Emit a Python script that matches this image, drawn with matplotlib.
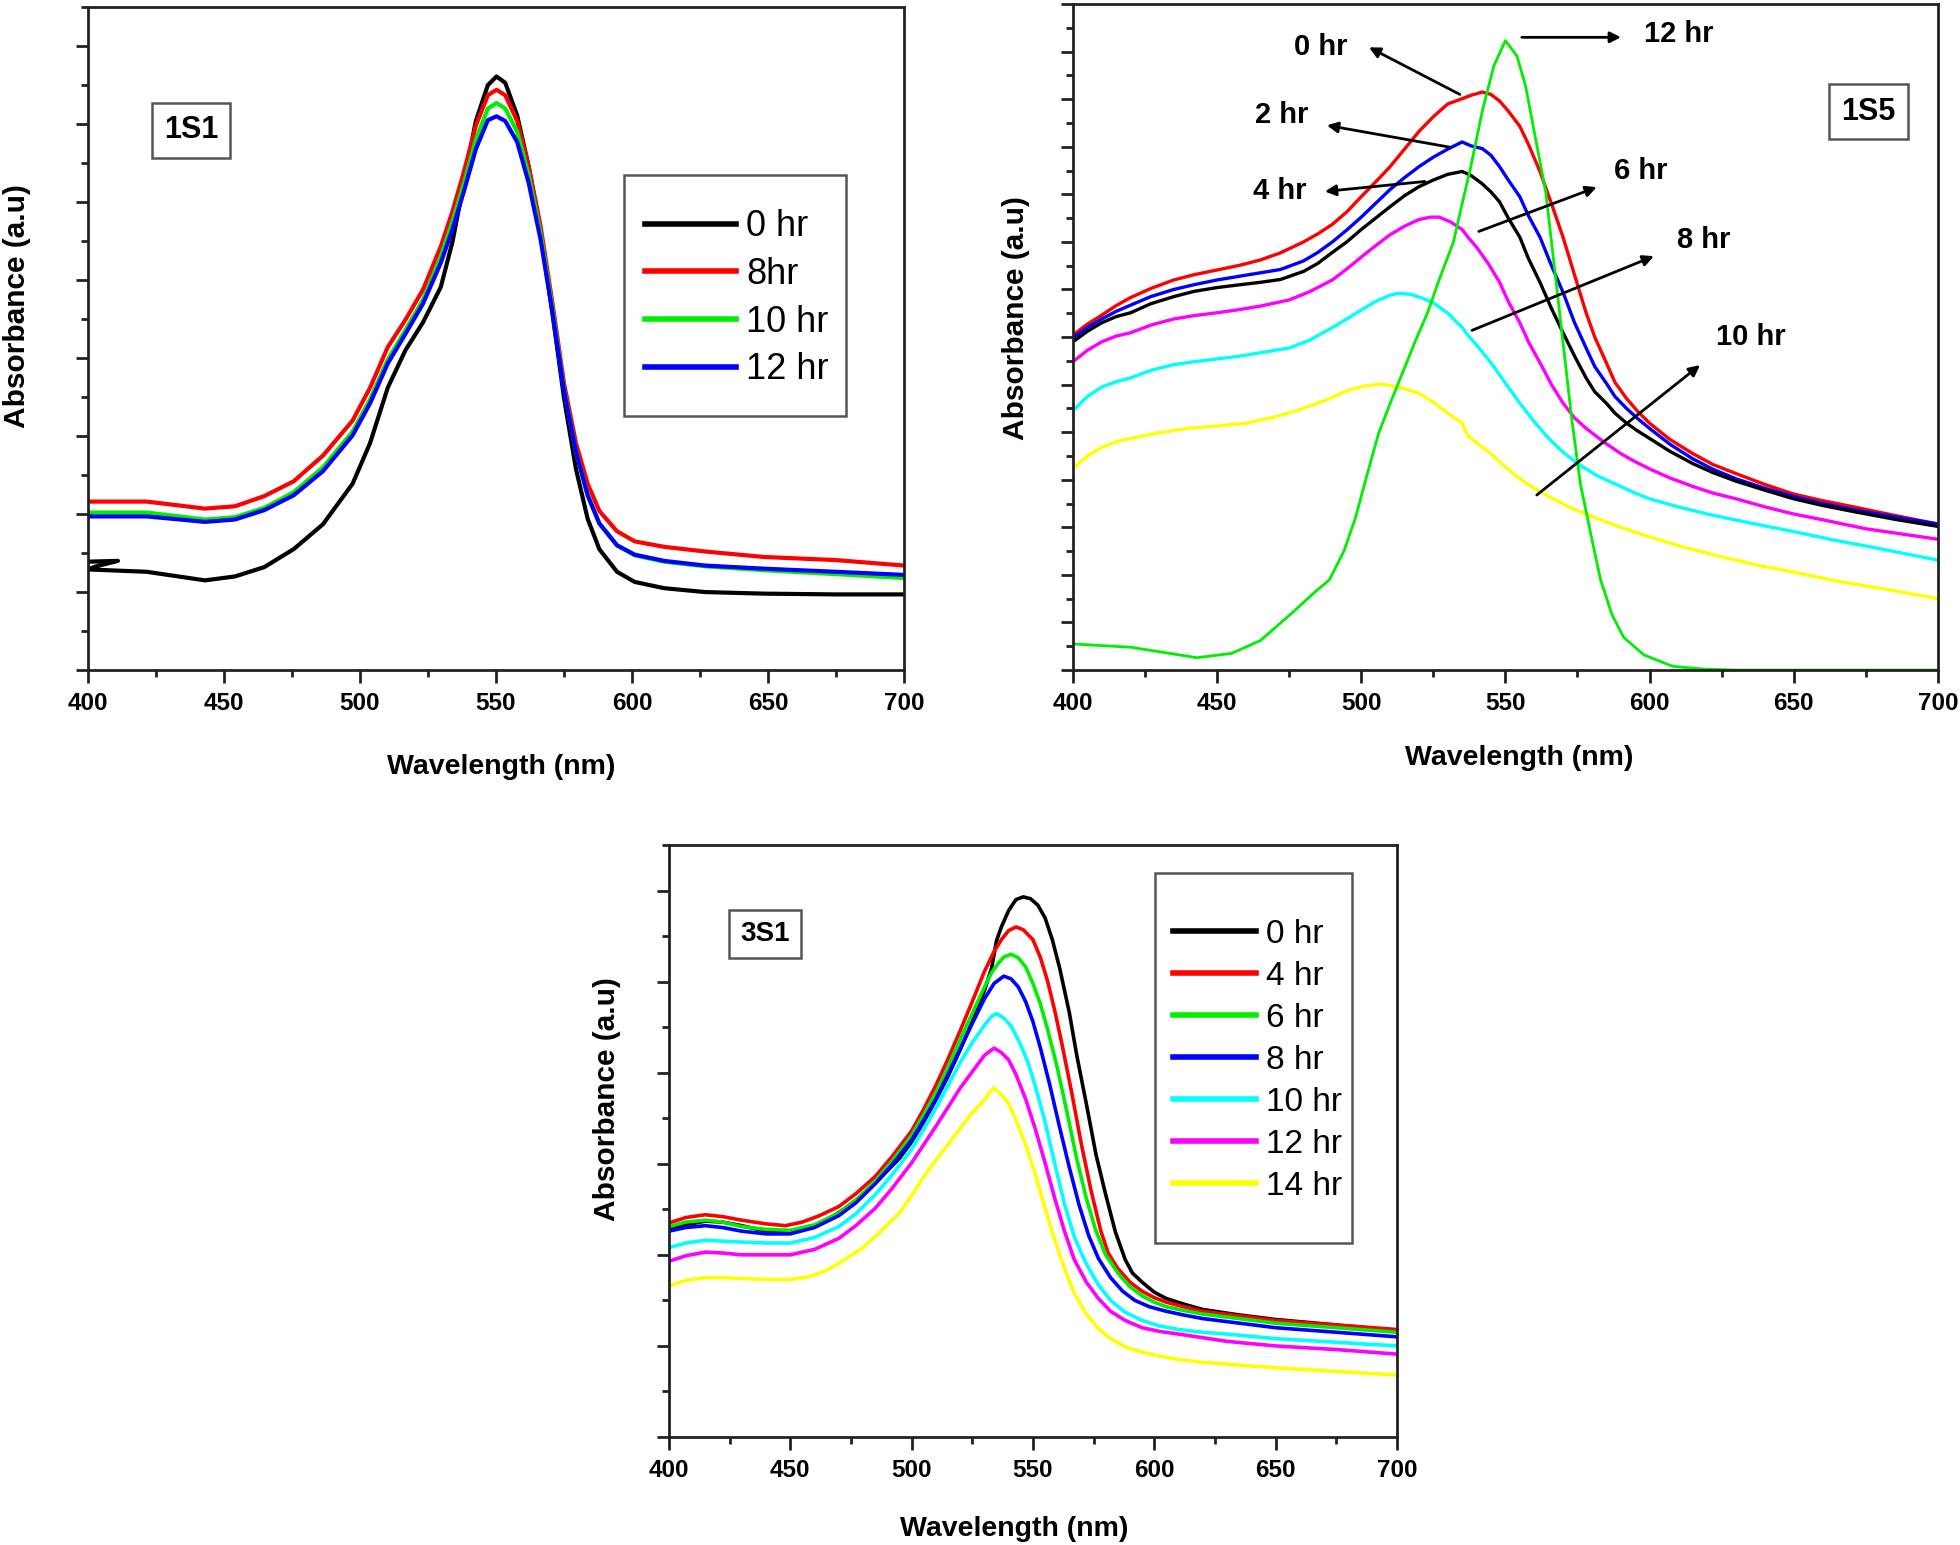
import matplotlib

matplotlib.use("Agg")

import matplotlib.pyplot as plt
from matplotlib.patches import Rectangle
from matplotlib.ticker import MultipleLocator

plt.rcParams["font.family"] = ["Liberation Sans", "DejaVu Sans"]

# ---- panel 1S1 -------------------------------------------------------------
S1_LABELS = ["0 hr", "8hr", "10 hr", "12 hr"]
S1_COLORS = ["#000000", "#ff0000", "#00ee00", "#0000ff"]
S1_GRID = [400, 421.6, 443, 454, 464.8, 475.6, 486.4, 497.3, 503.7, 510.2,
           516.7, 523.2, 529.7, 534, 538.3, 542.6, 547, 550.2, 553.4, 557.8,
           562, 566.4, 570.7, 575, 579.4, 583.7, 588, 594.5, 601, 611.8,
           626.9, 648.5, 675, 700]
S1_WAVELENGTHS = [
    [400, 411, 403, 400] + S1_GRID[1:],
    S1_GRID,
    S1_GRID,
    S1_GRID,
]
S1_ABSORBANCE = [
    [1.39, 1.40, 1.33, 1.29, 1.26, 1.15, 1.20, 1.32, 1.55, 1.87, 2.39, 2.91,
     3.62, 4.10, 4.46, 4.91, 5.49, 6.27, 7.04, 7.50, 7.61, 7.53, 7.11, 6.46,
     5.62, 4.59, 3.49, 2.58, 1.94, 1.55, 1.26, 1.13, 1.05, 1.00, 0.98, 0.97,
     0.97],
    [2.16, 2.16, 2.07, 2.10, 2.23, 2.42, 2.75, 3.20, 3.62, 4.14, 4.49, 4.88,
     5.43, 5.88, 6.40, 6.98, 7.37, 7.44, 7.37, 7.04, 6.46, 5.69, 4.72, 3.68,
     2.91, 2.39, 2.04, 1.78, 1.65, 1.58, 1.52, 1.45, 1.41, 1.34],
    [2.02, 2.02, 1.93, 1.96, 2.08, 2.28, 2.60, 3.06, 3.47, 3.98, 4.36, 4.75,
     5.30, 5.75, 6.25, 6.80, 7.20, 7.27, 7.20, 6.90, 6.35, 5.60, 4.65, 3.60,
     2.80, 2.25, 1.88, 1.60, 1.47, 1.39, 1.33, 1.28, 1.23, 1.18],
    [1.97, 1.97, 1.90, 1.93, 2.05, 2.24, 2.55, 3.01, 3.42, 3.93, 4.31, 4.70,
     5.22, 5.65, 6.15, 6.68, 7.05, 7.10, 7.04, 6.77, 6.25, 5.52, 4.60, 3.58,
     2.80, 2.24, 1.88, 1.60, 1.48, 1.40, 1.34, 1.30, 1.26, 1.22],
]

# ---- panel 1S5 (red 0 hr, blue 2 hr, black 4 hr, magenta 6 hr, cyan 8 hr,
# yellow 10 hr, green 12 hr) ------------------------------------------------
S5_COLORS = ["#ff0000", "#0000ff", "#000000", "#ff00ff", "#00ffff", "#ffff00",
             "#00ee00"]
S5_BROAD_WL = [400, 405, 410, 415, 420, 427, 435, 442, 450, 458, 465, 472,
               480, 485, 490, 495, 500, 505, 510, 515, 520, 525, 530, 535,
               538, 542, 545, 548, 551, 555, 558, 562, 566, 570, 574, 578,
               581, 585, 588, 592, 596, 600, 607, 615, 622, 630, 640, 650,
               660, 670, 685, 700]
S5_WAVELENGTHS = [
    S5_BROAD_WL,
    S5_BROAD_WL,
    S5_BROAD_WL,
    [400, 405, 410, 415, 420, 427, 435, 442, 450, 458, 465, 475, 482, 490,
     495, 500, 505, 510, 515, 520, 524, 527, 531, 535, 537, 540, 544, 548,
     551, 555, 558, 562, 566, 570, 574, 578, 584, 590, 595, 600, 607, 615,
     622, 630, 640, 650, 660, 675, 700],
    [400, 405, 410, 415, 420, 427, 435, 442, 450, 458, 465, 475, 482, 490,
     495, 500, 505, 510, 513, 517, 521, 525, 530, 535, 537, 541, 545, 550,
     555, 560, 565, 570, 575, 582, 590, 595, 600, 610, 620, 635, 650, 665,
     680, 700],
    [400, 405, 410, 415, 420, 430, 440, 450, 460, 470, 480, 488, 495, 501,
     507, 513, 520, 525, 530, 535, 537, 541, 545, 550, 555, 560, 565, 572,
     580, 590, 600, 612, 625, 637, 650, 665, 680, 700],
    [400, 420, 443, 455, 465, 476, 483, 489, 494, 498, 502, 506, 510, 515,
     519, 523, 527, 532, 535, 538, 542, 546, 550, 554, 557, 560, 564, 567,
     570, 573, 576, 580, 583, 587, 591, 598, 608, 619, 630, 700],
]
S5_ABSORBANCE = [
    [7.04, 7.27, 7.46, 7.66, 7.83, 8.02, 8.20, 8.31, 8.41, 8.51, 8.62, 8.77,
     9.00, 9.17, 9.37, 9.63, 9.95, 10.26, 10.58, 10.95, 11.32, 11.63, 11.90,
     12.01, 12.08, 12.15, 12.10, 11.96, 11.75, 11.43, 11.05, 10.48, 9.80,
     9.10, 8.30, 7.51, 7.00, 6.46, 6.05, 5.71, 5.43, 5.19, 4.85, 4.55, 4.32,
     4.13, 3.90, 3.70, 3.56, 3.44, 3.25, 3.07],
    [6.98, 7.20, 7.38, 7.54, 7.67, 7.85, 8.00, 8.10, 8.20, 8.28, 8.35, 8.42,
     8.60, 8.78, 9.00, 9.25, 9.52, 9.81, 10.10, 10.35, 10.58, 10.78, 10.95,
     11.10, 11.02, 10.96, 10.82, 10.58, 10.30, 9.95, 9.55, 9.10, 8.50, 7.94,
     7.30, 6.77, 6.38, 6.03, 5.75, 5.50, 5.28, 5.08, 4.75, 4.44, 4.22, 4.02,
     3.82, 3.65, 3.50, 3.38, 3.22, 3.07],
    [6.90, 7.12, 7.30, 7.43, 7.51, 7.70, 7.85, 7.96, 8.04, 8.10, 8.15, 8.21,
     8.38, 8.55, 8.78, 9.00, 9.26, 9.50, 9.74, 9.97, 10.16, 10.30, 10.42,
     10.48, 10.40, 10.22, 10.05, 9.84, 9.50, 9.10, 8.65, 8.15, 7.60, 7.09,
     6.60, 6.14, 5.85, 5.61, 5.40, 5.19, 5.02, 4.87, 4.60, 4.34, 4.15, 3.97,
     3.78, 3.60, 3.46, 3.34, 3.17, 3.02],
    [6.48, 6.72, 6.90, 7.02, 7.09, 7.25, 7.38, 7.45, 7.51, 7.58, 7.65, 7.78,
     7.95, 8.20, 8.43, 8.68, 8.92, 9.15, 9.33, 9.47, 9.52, 9.52, 9.42, 9.26,
     9.10, 8.89, 8.55, 8.15, 7.75, 7.30, 6.90, 6.46, 6.00, 5.61, 5.30, 5.08,
     4.80, 4.55, 4.38, 4.23, 4.04, 3.86, 3.72, 3.60, 3.43, 3.28, 3.16, 2.97,
     2.75],
    [5.45, 5.75, 5.95, 6.06, 6.14, 6.30, 6.42, 6.48, 6.54, 6.60, 6.67, 6.77,
     6.93, 7.20, 7.38, 7.57, 7.75, 7.88, 7.92, 7.90, 7.82, 7.72, 7.50, 7.20,
     7.04, 6.76, 6.46, 6.03, 5.61, 5.22, 4.87, 4.58, 4.34, 4.08, 3.86, 3.72,
     3.60, 3.43, 3.28, 3.09, 2.91, 2.72, 2.55, 2.31],
    [4.23, 4.50, 4.68, 4.80, 4.87, 4.99, 5.08, 5.13, 5.19, 5.32, 5.50, 5.68,
     5.87, 5.97, 6.01, 5.95, 5.82, 5.63, 5.40, 5.19, 4.92, 4.73, 4.55, 4.27,
     4.02, 3.82, 3.65, 3.43, 3.23, 3.00, 2.80, 2.58, 2.38, 2.21, 2.06, 1.87,
     1.72, 1.50],
    [0.55, 0.48, 0.26, 0.35, 0.62, 1.20, 1.59, 1.90, 2.50, 3.20, 4.10, 4.97,
     5.60, 6.35, 6.95, 7.51, 8.20, 9.00, 9.80, 10.58, 11.75, 12.70, 13.23,
     12.91, 12.28, 11.32, 10.05, 8.47, 6.88, 5.29, 3.92, 2.75, 1.90, 1.16,
     0.69, 0.32, 0.08, 0.02, 0.0, 0.0],
]
S5_ANNOTATION_TEXT = ["0 hr", "12 hr", "2 hr", "4 hr", "6 hr", "8 hr", "10 hr"]
S5_ANNOTATION_TEXT_XY = [(486, 13.09), (610, 13.36), (472.5, 11.66),
                         (471.8, 10.08), (597, 10.48), (618.8, 9.05),
                         (635.1, 7.0)]
S5_ARROW_TAIL = [(534.2, 12.1), (555.7, 13.3), (530.8, 10.99), (522.1, 10.27),
                 (540.8, 9.22), (538.4, 7.14), (560.9, 3.68)]
S5_ARROW_HEAD = [(502.7, 13.09), (590.1, 13.3), (488.1, 11.45), (487.4, 10.06),
                 (581.7, 10.15), (601.5, 8.70), (617.5, 6.41)]

# ---- panel 3S1 -------------------------------------------------------------
S3_LABELS = ["0 hr", "4 hr", "6 hr", "8 hr", "10 hr", "12 hr", "14 hr"]
S3_COLORS = ["#000000", "#ff0000", "#00ee00", "#0000ff", "#00ffff", "#ff00ff",
             "#ffff00"]
S3_WAVELENGTHS = [
    [400, 407, 415, 422, 430, 440, 450, 458, 465, 472, 480, 487, 495, 500,
     505, 510, 515, 520, 525, 530, 533, 535, 537, 540, 543, 546, 549, 552,
     555, 558, 561, 565, 568, 572, 576, 580, 584, 588, 591, 595, 600, 605,
     612, 620, 635, 650, 675, 700],
    [400, 407, 415, 422, 430, 440, 448, 455, 462, 470, 477, 485, 492, 500,
     505, 510, 515, 520, 525, 530, 534, 537, 540, 543, 546, 550, 553, 556,
     559, 562, 566, 570, 574, 578, 581, 585, 590, 595, 600, 605, 612, 620,
     635, 650, 675, 700],
    [400, 407, 415, 422, 430, 440, 450, 460, 470, 477, 485, 492, 500, 505,
     510, 515, 520, 525, 530, 533, 536, 538, 541, 544, 547, 550, 553, 556,
     560, 564, 568, 572, 576, 580, 585, 590, 595, 600, 605, 612, 620, 635,
     650, 675, 700],
    [400, 407, 415, 422, 430, 440, 450, 460, 470, 477, 485, 492, 500, 505,
     510, 515, 520, 525, 530, 534, 538, 541, 544, 547, 550, 553, 557, 561,
     565, 569, 573, 577, 582, 587, 592, 598, 605, 612, 620, 635, 650, 675,
     700],
    [400, 407, 415, 422, 430, 440, 450, 460, 470, 477, 485, 492, 500, 505,
     510, 515, 520, 525, 530, 533, 535, 538, 541, 544, 548, 551, 555, 559,
     563, 567, 572, 577, 582, 588, 595, 602, 610, 620, 630, 650, 675, 700],
    [400, 407, 415, 422, 430, 440, 450, 460, 470, 477, 485, 492, 500, 505,
     510, 515, 520, 525, 530, 534, 537, 540, 543, 547, 551, 555, 559, 563,
     567, 572, 577, 582, 588, 595, 602, 610, 620, 630, 650, 675, 700],
    [400, 407, 415, 422, 430, 440, 450, 458, 465, 472, 480, 487, 495, 500,
     505, 510, 515, 520, 525, 530, 532, 534, 537, 540, 543, 547, 551, 555,
     559, 563, 567, 572, 577, 582, 588, 595, 602, 610, 620, 630, 650, 675,
     700],
]
S3_ABSORBANCE = [
    [2.28, 2.33, 2.37, 2.36, 2.32, 2.26, 2.26, 2.30, 2.38, 2.50, 2.66, 2.84,
     3.06, 3.24, 3.46, 3.70, 3.96, 4.25, 4.56, 4.90, 5.15, 5.45, 5.60, 5.78,
     5.90, 5.93, 5.91, 5.84, 5.70, 5.46, 5.15, 4.66, 4.20, 3.66, 3.10, 2.66,
     2.25, 1.95, 1.80, 1.70, 1.59, 1.52, 1.46, 1.40, 1.34, 1.29, 1.23, 1.17],
    [2.35, 2.41, 2.44, 2.42, 2.38, 2.34, 2.32, 2.36, 2.43, 2.53, 2.67, 2.86,
     3.08, 3.36, 3.60, 3.86, 4.15, 4.46, 4.78, 5.11, 5.33, 5.46, 5.56, 5.60,
     5.57, 5.46, 5.27, 5.01, 4.68, 4.31, 3.78, 3.21, 2.70, 2.26, 2.02, 1.85,
     1.70, 1.60, 1.53, 1.48, 1.43, 1.38, 1.33, 1.28, 1.23, 1.18],
    [2.31, 2.36, 2.38, 2.36, 2.31, 2.28, 2.27, 2.33, 2.46, 2.60, 2.81, 3.03,
     3.31, 3.54, 3.78, 4.06, 4.36, 4.65, 4.94, 5.10, 5.21, 5.27, 5.30, 5.26,
     5.16, 4.98, 4.76, 4.48, 4.06, 3.57, 3.06, 2.62, 2.26, 2.00, 1.80, 1.65,
     1.55, 1.48, 1.43, 1.39, 1.35, 1.30, 1.25, 1.20, 1.15],
    [2.26, 2.30, 2.32, 2.30, 2.26, 2.23, 2.23, 2.30, 2.43, 2.57, 2.78, 2.99,
     3.26, 3.48, 3.71, 3.98, 4.26, 4.54, 4.81, 4.98, 5.06, 5.03, 4.94, 4.78,
     4.56, 4.28, 3.86, 3.40, 2.96, 2.55, 2.21, 1.96, 1.75, 1.60, 1.50, 1.43,
     1.38, 1.34, 1.30, 1.25, 1.20, 1.15, 1.10],
    [2.08, 2.13, 2.16, 2.15, 2.14, 2.13, 2.13, 2.19, 2.31, 2.45, 2.66, 2.88,
     3.16, 3.38, 3.61, 3.86, 4.11, 4.33, 4.52, 4.62, 4.65, 4.60, 4.51, 4.36,
     4.11, 3.85, 3.46, 3.00, 2.56, 2.20, 1.90, 1.67, 1.50, 1.37, 1.28, 1.22,
     1.18, 1.15, 1.13, 1.08, 1.04, 1.00],
    [1.93, 1.99, 2.03, 2.02, 2.00, 2.00, 2.00, 2.06, 2.18, 2.32, 2.51, 2.73,
     3.01, 3.21, 3.41, 3.62, 3.83, 4.01, 4.19, 4.27, 4.22, 4.14, 3.98, 3.71,
     3.38, 3.01, 2.62, 2.26, 1.95, 1.70, 1.52, 1.38, 1.28, 1.20, 1.16, 1.13,
     1.09, 1.05, 1.00, 0.96, 0.91],
    [1.66, 1.72, 1.75, 1.75, 1.74, 1.73, 1.73, 1.76, 1.83, 1.94, 2.08, 2.25,
     2.46, 2.65, 2.86, 3.04, 3.21, 3.39, 3.56, 3.70, 3.78, 3.83, 3.76, 3.66,
     3.48, 3.21, 2.88, 2.51, 2.16, 1.85, 1.58, 1.35, 1.19, 1.08, 0.99, 0.93,
     0.89, 0.85, 0.82, 0.80, 0.76, 0.72, 0.68],
]

X_TICKS = [400, 450, 500, 550, 600, 650, 700]


def style_axes(ax, y_max, ylabel_xy, xlabel_xy):
    ax.set_xlim(400, 700)
    ax.set_ylim(0, y_max)
    ax.set_xticks(X_TICKS)
    ax.xaxis.set_minor_locator(MultipleLocator(25))
    ax.yaxis.set_major_locator(MultipleLocator(1))
    ax.yaxis.set_minor_locator(MultipleLocator(0.5))
    ax.set_yticklabels([])
    ax.tick_params(which="both", direction="out", top=False, right=False,
                   width=2, color="#222222")
    ax.tick_params(which="major", length=9, pad=7, labelsize=17.5)
    ax.tick_params(which="minor", length=5)
    for label in ax.get_xticklabels():
        label.set_fontweight("bold")
    for spine in ax.spines.values():
        spine.set_linewidth(2)
        spine.set_color("#222222")
    ax.set_xlabel("Wavelength (nm)", fontsize=20.5, fontweight="bold")
    ax.set_ylabel("Absorbance (a.u)", fontsize=21.5, fontweight="bold")
    ax.xaxis.set_label_coords(*xlabel_xy)
    ax.yaxis.set_label_coords(*ylabel_xy)


def name_box(ax, x, y, text, size):
    ax.text(x, y, text, fontsize=size, fontweight="bold", ha="center",
            va="center",
            bbox=dict(boxstyle="square,pad=0.4", facecolor="white",
                      edgecolor="#555555", linewidth=1.8))


def framed_legend(ax, frame, anchor, fontsize, spacing):
    x0, y0, x1, y1 = frame
    ax.add_patch(Rectangle((x0, y0), x1 - x0, y1 - y0, transform=ax.transAxes,
                           facecolor="white", edgecolor="#555555",
                           linewidth=1.8, zorder=4))
    leg = ax.legend(loc="upper left", bbox_to_anchor=anchor, frameon=False,
                    fontsize=fontsize, handlelength=2.5, handletextpad=0.3,
                    labelspacing=spacing, borderpad=0, borderaxespad=0)
    leg.set_zorder(5)
    for line in leg.get_lines():
        line.set_linewidth(4)


fig = plt.figure(figsize=(19.6, 15.45), dpi=100)

# 1S1
ax1 = fig.add_axes([0.0449, 0.5663, 0.4163, 0.4291])
for wl, ab, color, label in zip(S1_WAVELENGTHS, S1_ABSORBANCE, S1_COLORS,
                                S1_LABELS):
    ax1.plot(wl, ab, color=color, linewidth=3, label=label,
             solid_joinstyle="round")
style_axes(ax1, 8.5, (-0.070, 0.549), (0.506, -0.126))
name_box(ax1, 437.9, 6.92, "1S1", 22)
framed_legend(ax1, (0.657, 0.383, 0.929, 0.747), (0.683, 0.695), 26, 0.35)

# 1S5
ax2 = fig.add_axes([0.5474, 0.5663, 0.4413, 0.4311])
for wl, ab, color in zip(S5_WAVELENGTHS, S5_ABSORBANCE, S5_COLORS):
    lw = 2.0 if color == "#00ee00" else 2.4
    ax2.plot(wl, ab, color=color, linewidth=lw, solid_joinstyle="round")
style_axes(ax2, 14, (-0.050, 0.528), (0.516, -0.113))
name_box(ax2, 676, 11.74, "1S5", 22)
for text, txy, tail, head in zip(S5_ANNOTATION_TEXT, S5_ANNOTATION_TEXT_XY,
                                 S5_ARROW_TAIL, S5_ARROW_HEAD):
    ax2.annotate("", xy=head, xytext=tail,
                 arrowprops=dict(arrowstyle="-|>", color="black", lw=2,
                                 mutation_scale=16, shrinkA=0, shrinkB=0))
    ax2.text(txy[0], txy[1], text, fontsize=21, fontweight="bold",
             ha="center", va="center")

# 3S1
ax3 = fig.add_axes([0.3413, 0.0699, 0.3714, 0.3832])
for wl, ab, color, label in zip(S3_WAVELENGTHS, S3_ABSORBANCE, S3_COLORS,
                                S3_LABELS):
    ax3.plot(wl, ab, color=color, linewidth=2.6, label=label,
             solid_joinstyle="round")
style_axes(ax3, 6.5, (-0.066, 0.571), (0.474, -0.133))
name_box(ax3, 439.6, 5.52, "3S1", 20)
framed_legend(ax3, (0.668, 0.328, 0.938, 0.953), (0.692, 0.875), 24, 0.33)

fig.savefig("out.png", dpi=100)
